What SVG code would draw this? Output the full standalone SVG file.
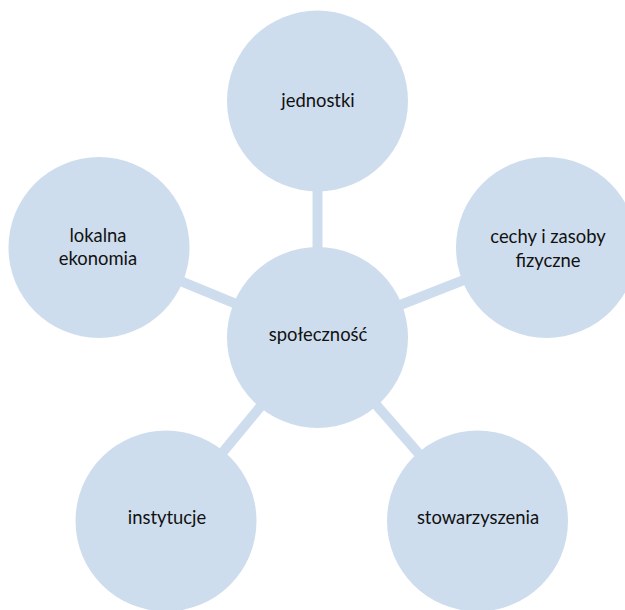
<svg xmlns="http://www.w3.org/2000/svg" width="625" height="610" viewBox="0 0 625 610">
<style>
.node{fill:#cedded}
.conn{stroke:#cedded;stroke-width:10;fill:none}
.lbl{font-family:Lato,"Liberation Sans",sans-serif;font-size:18.4px;fill:#111111;text-anchor:middle}
</style>
<rect width="625" height="610" fill="#ffffff"/>
<g id="connectors">
<line class="conn" x1="317.5" y1="337.5" x2="317.5" y2="101"/>
<line class="conn" x1="317.5" y1="337.5" x2="99" y2="247.5"/>
<line class="conn" x1="317.5" y1="337.5" x2="546.5" y2="247.5"/>
<line class="conn" x1="317.5" y1="337.5" x2="166" y2="521"/>
<line class="conn" x1="317.5" y1="337.5" x2="477.5" y2="521"/>
</g>
<g id="node-center">
<circle class="node" cx="317.5" cy="337.5" r="90.5"/>
<text class="lbl" x="318" y="340.5">społeczność</text>
</g>
<g id="node-jednostki">
<circle class="node" cx="317.5" cy="101" r="90.5"/>
<text class="lbl" x="318" y="107">jednostki</text>
</g>
<g id="node-lokalna">
<circle class="node" cx="99" cy="247.5" r="90.5"/>
<text class="lbl" x="98" y="241.5">lokalna</text>
<text class="lbl" x="98" y="265">ekonomia</text>
</g>
<g id="node-cechy">
<circle class="node" cx="546.5" cy="247.5" r="90.5"/>
<text class="lbl" x="548" y="243">cechy i zasoby</text>
<text class="lbl" x="548" y="267">fizyczne</text>
</g>
<g id="node-instytucje">
<circle class="node" cx="166" cy="521" r="90.5"/>
<text class="lbl" x="167" y="523.5">instytucje</text>
</g>
<g id="node-stowarzyszenia">
<circle class="node" cx="477.5" cy="521" r="90.5"/>
<text class="lbl" x="478" y="523.5">stowarzyszenia</text>
</g>
</svg>
